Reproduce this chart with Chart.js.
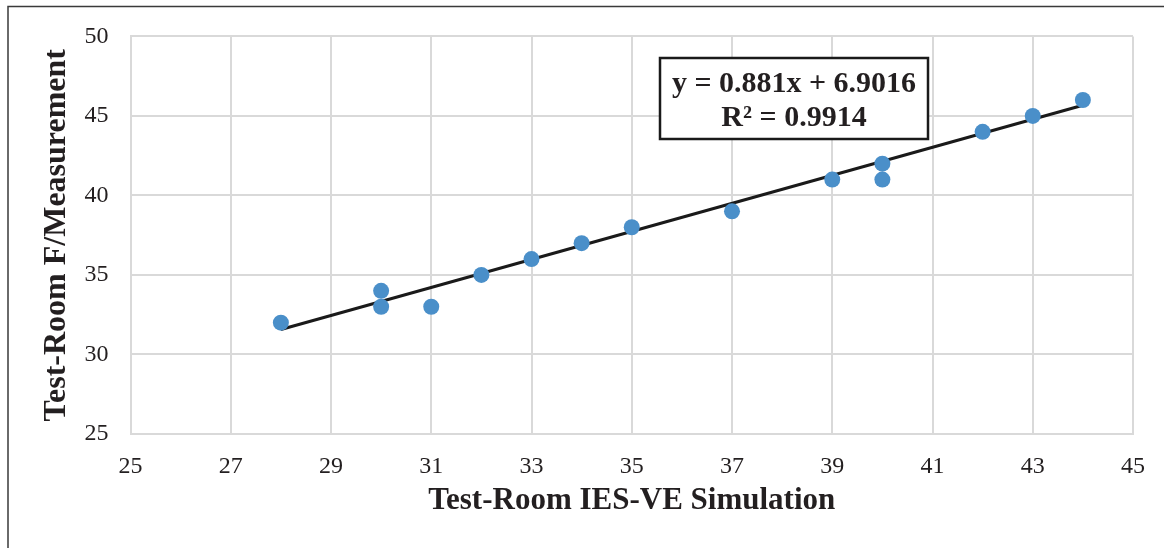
<!DOCTYPE html>
<html>
<head>
<meta charset="utf-8">
<script src="https://cdn.jsdelivr.net/npm/chart.js@4/dist/chart.umd.min.js"></script>
<style>
  html, body { margin: 0; padding: 0; background: #ffffff; }
  #wrap { width: 1164px; height: 548px; position: relative; }
</style>
</head>
<body>
<div id="wrap"><canvas id="c" width="1164" height="548"></canvas></div>
<script>
// ---- data ----
const simValues = [28, 30, 30, 31, 32, 33, 34, 35, 37, 39, 40, 40, 42, 43, 44];
const measValues = [32, 34, 33, 33, 35, 36, 37, 38, 39, 41, 42, 41, 44, 45, 46];
const trendX = [28, 44];
const trendY = [31.57, 45.67];
const equationLines = ['y = 0.881x + 6.9016', 'R\u00b2 = 0.9914'];
const xTitle = 'Test-Room IES-VE Simulation';
const yTitle = 'Test-Room F/Measurement';

const serif = '"Liberation Serif", "Times New Roman", serif';
const textColor = '#231f20';
const gridColor = '#d9d9d9';

const framePlugin = {
  id: 'frame',
  afterDraw(chart) {
    const ctx = chart.ctx;
    ctx.save();
    // outer frame (top and left visible)
    ctx.strokeStyle = '#3a3a3a';
    ctx.lineWidth = 1.5;
    ctx.beginPath();
    ctx.moveTo(8, 548);
    ctx.lineTo(8, 6.5);
    ctx.lineTo(1164, 6.5);
    ctx.stroke();
    // equation box
    const bx = 660, by = 58, bw = 268, bh = 81;
    ctx.fillStyle = '#ffffff';
    ctx.fillRect(bx, by, bw, bh);
    ctx.strokeStyle = '#1a1a1a';
    ctx.lineWidth = 2.5;
    ctx.strokeRect(bx, by, bw, bh);
    ctx.fillStyle = textColor;
    ctx.font = 'bold 30px ' + serif;
    ctx.textAlign = 'center';
    ctx.textBaseline = 'middle';
    ctx.fillText(equationLines[0], bx + bw / 2, 84);
    ctx.fillText(equationLines[1], bx + bw / 2, 118);
    ctx.restore();
  }
};

new Chart(document.getElementById('c'), {
  type: 'scatter',
  data: {
    datasets: [
      {
        label: 'Data',
        data: simValues.map((x, i) => ({ x: x, y: measValues[i] })),
        backgroundColor: '#4a8fc9',
        borderColor: '#4a8fc9',
        pointRadius: 8,
        pointHoverRadius: 8,
        borderWidth: 0
      },
      {
        label: 'Trend',
        type: 'line',
        data: trendX.map((x, i) => ({ x: x, y: trendY[i] })),
        borderColor: '#1a1a1a',
        borderWidth: 3,
        pointRadius: 0,
        fill: false,
        tension: 0
      }
    ]
  },
  options: {
    responsive: false,
    animation: false,
    devicePixelRatio: 1,
    layout: { padding: { top: 34, right: 31, left: 0, bottom: 0 } },
    plugins: {
      legend: { display: false },
      tooltip: { enabled: false }
    },
    scales: {
      x: {
        type: 'linear',
        min: 25, max: 45,
        afterFit(scale) { scale.height = 114; },
        ticks: { stepSize: 2, font: { family: serif, size: 24 }, color: textColor, padding: 18 },
        grid: { color: gridColor, lineWidth: 2, drawTicks: false },
        border: { color: gridColor, width: 2 },
        title: {
          display: true, text: xTitle, color: textColor,
          font: { family: serif, size: 31, weight: 'bold' },
          padding: { top: 0, bottom: 28 }
        }
      },
      y: {
        type: 'linear',
        min: 25, max: 50,
        afterFit(scale) { scale.width = 130.5; },
        ticks: { stepSize: 5, font: { family: serif, size: 24 }, color: textColor, padding: 22 },
        grid: { color: gridColor, lineWidth: 2, drawTicks: false },
        border: { color: gridColor, width: 2 },
        title: {
          display: true, text: yTitle, color: textColor,
          font: { family: serif, size: 32, weight: 'bold' },
          padding: { top: 38, bottom: 0 }
        }
      }
    }
  },
  plugins: [framePlugin]
});
</script>
</body>
</html>
